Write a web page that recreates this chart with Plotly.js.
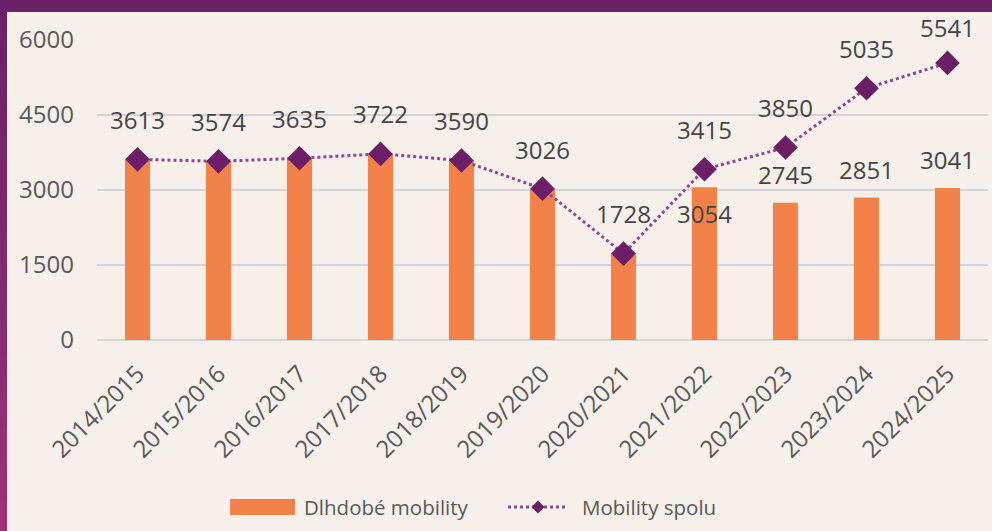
<!DOCTYPE html>
<html><head><meta charset="utf-8">
<script src="https://cdn.plot.ly/plotly-3.0.1.min.js"></script>
<style>
html,body{margin:0;padding:0;width:992px;height:531px;overflow:hidden;background:linear-gradient(to bottom,#6b2167 0%,#86296f 55%,#a1307a 100%);}
#chart{position:absolute;left:7px;top:12px;width:985px;height:519px;}
</style></head><body><div id="chart"></div>
<script>
const categories = ['2014/2015','2015/2016','2016/2017','2017/2018','2018/2019','2019/2020','2020/2021','2021/2022','2022/2023','2023/2024','2024/2025'];
const longTermMobility = [3613,3574,3635,3722,3590,3026,1728,3054,2745,2851,3041];
const totalMobility = [3613,3574,3635,3722,3590,3026,1728,3415,3850,5035,5541];
const barLabelShown = [false,false,false,false,false,false,false,true,true,true,true];
const yTickValues = [0,1500,3000,4500,6000];
const seriesNames = ['Dlhdobé mobility','Mobility spolu'];

// label placement (styles, not data)
const lineLabelShift = [40,40,40,40,40,39,40,40,40,40,35];
const barLabelShift = [28,28,28,28,28,28,28,-26,28,28,28];

const FONT = '"Open Sans", "Noto Sans", sans-serif';
const labelColor = '#454545';
const axisColor = '#595959';
const barColor = '#f2814a';
const lineColor = '#8a4a8c';
const markerColor = '#6a1f66';

const M = {l:90, r:4, t:28, b:191};
const W = 985, H = 519;
const plotW = W - M.l - M.r, plotH = H - M.t - M.b;
const px = v => (v - M.l) / plotW;          // div pixel -> paper x
const py = v => (H - M.b - v) / plotH;      // div pixel -> paper y

const traces = [
  {type:'bar', name:seriesNames[0], x:categories, y:longTermMobility,
   marker:{color:barColor}, showlegend:false},
  {type:'scatter', mode:'lines+markers', name:seriesNames[1], x:categories, y:totalMobility,
   line:{color:lineColor, width:3, dash:'dot'},
   marker:{symbol:'diamond', size:19, color:markerColor}, showlegend:false}
];

const annotations = [];
categories.forEach((c,i)=>{
  annotations.push({x:c, y:totalMobility[i], xref:'x', yref:'y', text:String(totalMobility[i]),
    showarrow:false, yshift:lineLabelShift[i], font:{family:FONT, size:24, color:labelColor}});
  if(barLabelShown[i]){
    annotations.push({x:c, y:longTermMobility[i], xref:'x', yref:'y', text:String(longTermMobility[i]),
      showarrow:false, yshift:barLabelShift[i], font:{family:FONT, size:24, color:labelColor}});
  }
});

// custom legend (layout decoration)
const legY = 495;
annotations.push({xref:'paper', yref:'paper', x:px(295), y:py(legY), xanchor:'left', yanchor:'middle',
  text:seriesNames[0], showarrow:false, font:{family:FONT, size:20.5, color:axisColor}});
annotations.push({xref:'paper', yref:'paper', x:px(573), y:py(legY), xanchor:'left', yanchor:'middle',
  text:seriesNames[1], showarrow:false, font:{family:FONT, size:20.5, color:axisColor}});
const shapes = [
  {type:'rect', xref:'paper', yref:'paper', x0:px(223), x1:px(288), y0:py(503), y1:py(487),
   fillcolor:barColor, line:{width:0}},
  {type:'line', xref:'paper', yref:'paper', x0:px(501), x1:px(561), y0:py(legY), y1:py(legY),
   line:{color:lineColor, width:3, dash:'dot'}},
  {type:'path', xref:'paper', yref:'paper', xsizemode:'pixel', ysizemode:'pixel',
   xanchor:px(531), yanchor:py(legY), path:'M0,6.5 L6.5,0 L0,-6.5 L-6.5,0 Z',
   fillcolor:markerColor, line:{width:0}}
];

const layout = {
  width:W, height:H,
  paper_bgcolor:'#f7efea', plot_bgcolor:'#f7efea',
  margin:M,
  font:{family:FONT, color:axisColor},
  bargap:0.69,
  showlegend:false,
  xaxis:{type:'category', range:[-0.5, categories.length-0.5], tickangle:-45,
    tickfont:{family:FONT, size:24, color:axisColor},
    showgrid:false, zeroline:false, showline:false, ticks:'', ticklabelstandoff:14},
  yaxis:{range:[0,6000], tickvals:yTickValues, ticktext:yTickValues.map(String),
    tickfont:{family:FONT, size:24, color:axisColor},
    showgrid:true, gridcolor:'#d2d5d8', gridwidth:2,
    zeroline:true, zerolinecolor:'#d2d5d8', zerolinewidth:2,
    showline:false, ticks:'', ticklabelstandoff:22},
  annotations:annotations,
  shapes:shapes
};

Plotly.newPlot('chart', traces, layout, {displayModeBar:false, staticPlot:true});
</script></body></html>
